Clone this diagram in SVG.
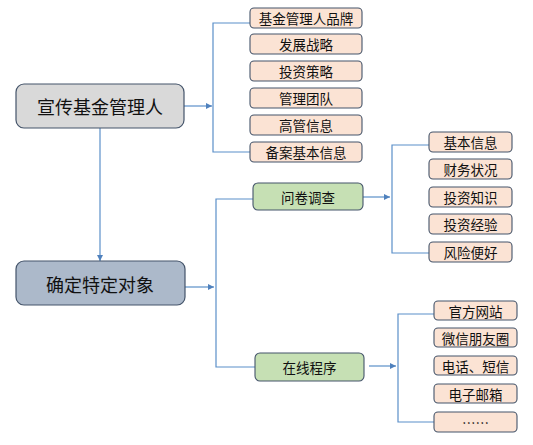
<svg xmlns="http://www.w3.org/2000/svg" width="533" height="445" viewBox="0 0 533 445">
<defs>
<marker id="ah" viewBox="0 0 10 10" refX="10" refY="5" markerWidth="6" markerHeight="6" markerUnits="userSpaceOnUse" orient="auto">
<path d="M0,0 L10,5 L0,10 z" fill="#4f81bd"/>
</marker>
<style>
.ln{fill:none;stroke:#5b8fc9;stroke-width:1.2}
.main{stroke:#44546a;stroke-width:1.2}
.leaf{fill:#fbe3d4;stroke:#44546a;stroke-width:1.1}
.mid{fill:#c6e0b4;stroke:#44546a;stroke-width:1.1}
text{font-family:"Noto Sans CJK SC","Noto Sans",sans-serif;text-anchor:middle;dominant-baseline:central;fill:#111}
.big{font-size:18px}
.sm{font-size:13.5px}
</style>
</defs>
<rect width="533" height="445" fill="#ffffff"/>
<g id="connectors">
<path class="ln" d="M184,106 H212" marker-end="url(#ah)"/>
<path class="ln" d="M250,23 H213 V152 H250"/>
<path class="ln" d="M100,128 V261" marker-end="url(#ah)"/>
<path class="ln" d="M185,287 H214" marker-end="url(#ah)"/>
<path class="ln" d="M253,199 H216 V367 H255"/>
<path class="ln" d="M363,197 H390" marker-end="url(#ah)"/>
<path class="ln" d="M429,145 H392 V253 H429"/>
<path class="ln" d="M369,366 H396" marker-end="url(#ah)"/>
<path class="ln" d="M434,314 H398 V422 H434"/>
</g>
<g id="n-xuanchuan"><rect class="main" x="16" y="84" width="168" height="44" rx="8" fill="#d9d9d9"/><text class="big" x="100" y="106">宣传基金管理人</text></g>
<g id="n-queding"><rect class="main" x="16" y="261" width="169" height="44" rx="8" fill="#acb9ca"/><text class="big" x="100" y="284">确定特定对象</text></g>
<g id="n-pinpai"><rect class="leaf" x="250" y="8" width="112" height="20" rx="4"/><text class="sm" x="306" y="18">基金管理人品牌</text></g>
<g id="n-fazhan"><rect class="leaf" x="250" y="34" width="112" height="20" rx="4"/><text class="sm" x="306" y="44">发展战略</text></g>
<g id="n-touzicl"><rect class="leaf" x="250" y="61" width="112" height="20" rx="4"/><text class="sm" x="306" y="71">投资策略</text></g>
<g id="n-tuandui"><rect class="leaf" x="250" y="88" width="112" height="20" rx="4"/><text class="sm" x="306" y="98">管理团队</text></g>
<g id="n-gaoguan"><rect class="leaf" x="250" y="115" width="112" height="20" rx="4"/><text class="sm" x="306" y="125">高管信息</text></g>
<g id="n-beian"><rect class="leaf" x="250" y="142" width="112" height="20" rx="4"/><text class="sm" x="306" y="152">备案基本信息</text></g>
<g id="n-wenjuan"><rect class="mid" x="253" y="183" width="110" height="27" rx="5"/><text class="sm" x="308" y="196.5">问卷调查</text></g>
<g id="n-zaixian"><rect class="mid" x="255" y="353" width="109" height="28" rx="5"/><text class="sm" x="309.5" y="367">在线程序</text></g>
<g id="n-jiben"><rect class="leaf" x="429" y="132" width="83" height="20" rx="4"/><text class="sm" x="470.5" y="142">基本信息</text></g>
<g id="n-caiwu"><rect class="leaf" x="429" y="159" width="83" height="20" rx="4"/><text class="sm" x="470.5" y="169">财务状况</text></g>
<g id="n-zhishi"><rect class="leaf" x="429" y="187" width="83" height="20" rx="4"/><text class="sm" x="470.5" y="197">投资知识</text></g>
<g id="n-jingyan"><rect class="leaf" x="429" y="214" width="83" height="20" rx="4"/><text class="sm" x="470.5" y="224">投资经验</text></g>
<g id="n-fengxian"><rect class="leaf" x="429" y="242" width="83" height="20" rx="4"/><text class="sm" x="470.5" y="252">风险便好</text></g>
<g id="n-guanwang"><rect class="leaf" x="434" y="301" width="83" height="19" rx="4"/><text class="sm" x="475.5" y="310.5">官方网站</text></g>
<g id="n-weixin"><rect class="leaf" x="434" y="328" width="83" height="19" rx="4"/><text class="sm" x="475.5" y="337.5">微信朋友圈</text></g>
<g id="n-dianhua"><rect class="leaf" x="434" y="356" width="83" height="19" rx="4"/><text class="sm" x="475.5" y="365.5">电话、短信</text></g>
<g id="n-youxiang"><rect class="leaf" x="434" y="384" width="83" height="19" rx="4"/><text class="sm" x="475.5" y="393.5">电子邮箱</text></g>
<g id="n-more"><rect class="leaf" x="434" y="412" width="83" height="20" rx="4"/><text class="sm" x="475.5" y="422">……</text></g>
</svg>
